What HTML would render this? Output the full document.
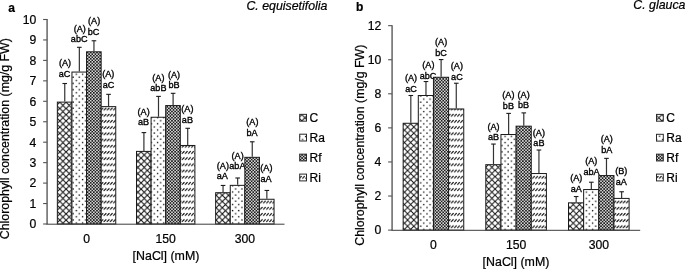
<!DOCTYPE html>
<html lang="en">
<head>
<meta charset="utf-8">
<title>Chlorophyll concentration</title>
<style>
html,body{margin:0;padding:0;background:#fff;}
body{width:685px;height:269px;overflow:hidden;}
svg{display:block;font-family:"Liberation Sans", sans-serif;fill:#000;}
text{stroke:#000;stroke-width:0.22px;}
.s{stroke-width:0.34px;}
</style>
</head>
<body>
<svg width="685" height="269" viewBox="0 0 685 269">
<defs>
<pattern id="pCL" patternUnits="userSpaceOnUse" width="6.25" height="6.2" x="3.550" y="3.100">
<rect width="6.25" height="6.2" fill="#fff"/>
<path d="M-1 -0.992L7.25 7.192M-1 7.192L7.25 -0.992" stroke="#111" stroke-width="1.1" fill="none"/>
</pattern>
<pattern id="pRaL" patternUnits="userSpaceOnUse" width="6.25" height="6.2" x="3.400" y="1.900">
<rect width="6.25" height="6.2" fill="#fff"/>
<rect x="0.35" y="0.35" width="1.3" height="1.3" fill="#000"/>
<rect x="3.475" y="3.45" width="1.3" height="1.3" fill="#000"/>
</pattern>
<pattern id="pRfL" patternUnits="userSpaceOnUse" width="3.125" height="3.1" x="-0.680" y="0.680">
<rect width="3.125" height="3.1" fill="#1c1c1c"/>
<rect x="0.03" y="0.1" width="1.5" height="1.35" fill="#fafafa"/>
<rect x="1.5925" y="1.65" width="1.5" height="1.35" fill="#fafafa"/>
</pattern>
<pattern id="pRiL" patternUnits="userSpaceOnUse" width="3.125" height="6.2" x="0.315" y="0.550">
<rect width="3.125" height="6.2" fill="#fff"/>
<path d="M0.62 4.05L2.5 2.2" stroke="#000" stroke-width="1.05" stroke-linecap="round" fill="none"/>
</pattern>
<pattern id="pCR" patternUnits="userSpaceOnUse" width="6.25" height="6.2" x="1.300" y="3.020">
<rect width="6.25" height="6.2" fill="#fff"/>
<path d="M-1 -0.992L7.25 7.192M-1 7.192L7.25 -0.992" stroke="#111" stroke-width="1.0" fill="none"/>
</pattern>
<pattern id="pRaR" patternUnits="userSpaceOnUse" width="6.25" height="6.2" x="0.940" y="2.020">
<rect width="6.25" height="6.2" fill="#fff"/>
<rect x="0.35" y="0.35" width="1.3" height="1.3" fill="#000"/>
<rect x="3.475" y="3.45" width="1.3" height="1.3" fill="#000"/>
</pattern>
<pattern id="pRfR" patternUnits="userSpaceOnUse" width="3.125" height="3.1" x="0.230" y="0.685">
<rect width="3.125" height="3.1" fill="#1c1c1c"/>
<rect x="0.03" y="0.1" width="1.5" height="1.35" fill="#fafafa"/>
<rect x="1.5925" y="1.65" width="1.5" height="1.35" fill="#fafafa"/>
</pattern>
<pattern id="pRiR" patternUnits="userSpaceOnUse" width="3.125" height="6.2" x="0.690" y="0.525">
<rect width="3.125" height="6.2" fill="#fff"/>
<path d="M0.62 4.05L2.5 2.2" stroke="#000" stroke-width="1.05" stroke-linecap="round" fill="none"/>
</pattern>
<pattern id="pCLL" patternUnits="userSpaceOnUse" width="6.25" height="6.2" x="1.800" y="3.100">
<rect width="6.25" height="6.2" fill="#fff"/>
<path d="M-1 -0.992L7.25 7.192M-1 7.192L7.25 -0.992" stroke="#111" stroke-width="1.1" fill="none"/>
</pattern>
<pattern id="pRaLL" patternUnits="userSpaceOnUse" width="6.25" height="6.2" x="1.600" y="2.200">
<rect width="6.25" height="6.2" fill="#fff"/>
<rect x="0.35" y="0.35" width="1.3" height="1.3" fill="#000"/>
<rect x="3.475" y="3.45" width="1.3" height="1.3" fill="#000"/>
</pattern>
<pattern id="pRfLL" patternUnits="userSpaceOnUse" width="3.125" height="3.1" x="1.290" y="0.725">
<rect width="3.125" height="3.1" fill="#1c1c1c"/>
<rect x="0.03" y="0.1" width="1.5" height="1.35" fill="#fafafa"/>
<rect x="1.5925" y="1.65" width="1.5" height="1.35" fill="#fafafa"/>
</pattern>
<pattern id="pRiLL" patternUnits="userSpaceOnUse" width="3.125" height="6.2" x="-1.185" y="0.575">
<rect width="3.125" height="6.2" fill="#fff"/>
<path d="M0.62 4.05L2.5 2.2" stroke="#000" stroke-width="1.05" stroke-linecap="round" fill="none"/>
</pattern>
<pattern id="pCRL" patternUnits="userSpaceOnUse" width="6.25" height="6.2" x="5.675" y="3.100">
<rect width="6.25" height="6.2" fill="#fff"/>
<path d="M-1 -0.992L7.25 7.192M-1 7.192L7.25 -0.992" stroke="#111" stroke-width="1.0" fill="none"/>
</pattern>
<pattern id="pRaRL" patternUnits="userSpaceOnUse" width="6.25" height="6.2" x="2.350" y="5.150">
<rect width="6.25" height="6.2" fill="#fff"/>
<rect x="0.35" y="0.35" width="1.3" height="1.3" fill="#000"/>
<rect x="3.475" y="3.45" width="1.3" height="1.3" fill="#000"/>
</pattern>
<pattern id="pRfRL" patternUnits="userSpaceOnUse" width="3.125" height="3.1" x="1.770" y="0.725">
<rect width="3.125" height="3.1" fill="#1c1c1c"/>
<rect x="0.03" y="0.1" width="1.5" height="1.35" fill="#fafafa"/>
<rect x="1.5925" y="1.65" width="1.5" height="1.35" fill="#fafafa"/>
</pattern>
<pattern id="pRiRL" patternUnits="userSpaceOnUse" width="3.125" height="6.2" x="-0.660" y="0.575">
<rect width="3.125" height="6.2" fill="#fff"/>
<path d="M0.62 4.05L2.5 2.2" stroke="#000" stroke-width="1.05" stroke-linecap="round" fill="none"/>
</pattern>
</defs>
<rect width="685" height="269" fill="#fff"/>
<text x="65.00" y="66.10" text-anchor="middle" font-size="9.1" class="s">(A)</text>
<text x="64.60" y="77.00" text-anchor="middle" font-size="9.1" class="s">aC</text>
<text x="79.70" y="31.50" text-anchor="middle" font-size="9.1" class="s">(A)</text>
<text x="79.20" y="41.70" text-anchor="middle" font-size="9.1" class="s">abC</text>
<text x="94.10" y="23.70" text-anchor="middle" font-size="9.1" class="s">(A)</text>
<text x="93.50" y="34.60" text-anchor="middle" font-size="9.1" class="s">bC</text>
<text x="108.20" y="77.30" text-anchor="middle" font-size="9.1" class="s">(A)</text>
<text x="108.50" y="88.20" text-anchor="middle" font-size="9.1" class="s">aC</text>
<text x="143.60" y="115.40" text-anchor="middle" font-size="9.1" class="s">(A)</text>
<text x="143.50" y="125.40" text-anchor="middle" font-size="9.1" class="s">aB</text>
<text x="158.40" y="80.90" text-anchor="middle" font-size="9.1" class="s">(A)</text>
<text x="158.40" y="91.40" text-anchor="middle" font-size="9.1" class="s">abB</text>
<text x="174.00" y="77.60" text-anchor="middle" font-size="9.1" class="s">(A)</text>
<text x="174.00" y="88.20" text-anchor="middle" font-size="9.1" class="s">bB</text>
<text x="187.40" y="112.10" text-anchor="middle" font-size="9.1" class="s">(A)</text>
<text x="187.40" y="122.80" text-anchor="middle" font-size="9.1" class="s">aB</text>
<text x="222.90" y="168.50" text-anchor="middle" font-size="9.1" class="s">(A)</text>
<text x="222.30" y="179.40" text-anchor="middle" font-size="9.1" class="s">aA</text>
<text x="237.60" y="158.80" text-anchor="middle" font-size="9.1" class="s">(A)</text>
<text x="237.40" y="169.20" text-anchor="middle" font-size="9.1" class="s">abA</text>
<text x="252.40" y="125.00" text-anchor="middle" font-size="9.1" class="s">(A)</text>
<text x="252.00" y="135.50" text-anchor="middle" font-size="9.1" class="s">bA</text>
<text x="266.40" y="170.80" text-anchor="middle" font-size="9.1" class="s">(A)</text>
<text x="266.00" y="181.60" text-anchor="middle" font-size="9.1" class="s">aA</text>
<rect x="57.35" y="102.12" width="14.60" height="121.88" fill="url(#pCL)" stroke="#1a1a1a" stroke-width="1"/>
<path d="M64.75 101.62V83.51" stroke="#333" stroke-width="1.2" fill="none"/><path d="M62.45 83.51H67.05" stroke="#1a1a1a" stroke-width="1.1" fill="none"/>
<rect x="71.95" y="72.06" width="14.60" height="151.94" fill="url(#pRaL)" stroke="#1a1a1a" stroke-width="1"/>
<path d="M79.35 71.56V47.31" stroke="#333" stroke-width="1.2" fill="none"/><path d="M77.05 47.31H81.65" stroke="#1a1a1a" stroke-width="1.1" fill="none"/>
<rect x="86.55" y="51.81" width="14.60" height="172.19" fill="url(#pRfL)" stroke="#1a1a1a" stroke-width="1"/>
<path d="M93.95 51.31V40.77" stroke="#333" stroke-width="1.2" fill="none"/><path d="M91.65 40.77H96.25" stroke="#1a1a1a" stroke-width="1.1" fill="none"/>
<rect x="101.15" y="106.62" width="14.60" height="117.38" fill="url(#pRiL)" stroke="#1a1a1a" stroke-width="1"/>
<path d="M108.55 106.12V94.35" stroke="#333" stroke-width="1.2" fill="none"/><path d="M106.25 94.35H110.85" stroke="#1a1a1a" stroke-width="1.1" fill="none"/>
<rect x="136.50" y="151.40" width="14.60" height="72.60" fill="url(#pCL)" stroke="#1a1a1a" stroke-width="1"/>
<path d="M143.90 150.90V132.59" stroke="#333" stroke-width="1.2" fill="none"/><path d="M141.60 132.59H146.20" stroke="#1a1a1a" stroke-width="1.1" fill="none"/>
<rect x="151.10" y="117.25" width="14.60" height="106.75" fill="url(#pRaL)" stroke="#1a1a1a" stroke-width="1"/>
<path d="M158.50 116.75V96.39" stroke="#333" stroke-width="1.2" fill="none"/><path d="M156.20 96.39H160.80" stroke="#1a1a1a" stroke-width="1.1" fill="none"/>
<rect x="165.70" y="105.59" width="14.60" height="118.41" fill="url(#pRfL)" stroke="#1a1a1a" stroke-width="1"/>
<path d="M173.10 105.09V93.32" stroke="#333" stroke-width="1.2" fill="none"/><path d="M170.80 93.32H175.40" stroke="#1a1a1a" stroke-width="1.1" fill="none"/>
<rect x="180.30" y="145.47" width="14.60" height="78.53" fill="url(#pRiL)" stroke="#1a1a1a" stroke-width="1"/>
<path d="M187.70 144.97V128.29" stroke="#333" stroke-width="1.2" fill="none"/><path d="M185.40 128.29H190.00" stroke="#1a1a1a" stroke-width="1.1" fill="none"/>
<rect x="215.65" y="192.71" width="14.60" height="31.29" fill="url(#pCL)" stroke="#1a1a1a" stroke-width="1"/>
<path d="M223.05 192.21V185.45" stroke="#333" stroke-width="1.2" fill="none"/><path d="M220.75 185.45H225.35" stroke="#1a1a1a" stroke-width="1.1" fill="none"/>
<rect x="230.25" y="185.35" width="14.60" height="38.65" fill="url(#pRaL)" stroke="#1a1a1a" stroke-width="1"/>
<path d="M237.65 184.85V177.99" stroke="#333" stroke-width="1.2" fill="none"/><path d="M235.35 177.99H239.95" stroke="#1a1a1a" stroke-width="1.1" fill="none"/>
<rect x="244.85" y="157.33" width="14.60" height="66.67" fill="url(#pRfL)" stroke="#1a1a1a" stroke-width="1"/>
<path d="M252.25 156.83V141.79" stroke="#333" stroke-width="1.2" fill="none"/><path d="M249.95 141.79H254.55" stroke="#1a1a1a" stroke-width="1.1" fill="none"/>
<rect x="259.45" y="199.26" width="14.60" height="24.74" fill="url(#pRiL)" stroke="#1a1a1a" stroke-width="1"/>
<path d="M266.85 198.76V190.46" stroke="#333" stroke-width="1.2" fill="none"/><path d="M264.55 190.46H269.15" stroke="#1a1a1a" stroke-width="1.1" fill="none"/>
<path d="M47.10 19.00V224.00" stroke="#777" stroke-width="1.7" fill="none"/>
<path d="M46.30 224.20H284.50" stroke="#3c3c3c" stroke-width="1" fill="none"/>
<path d="M43.10 224.00H47.10" stroke="#555" stroke-width="1.1" fill="none"/>
<text x="36.30" y="228.35" text-anchor="end" font-size="12.2">0</text>
<path d="M43.10 203.55H47.10" stroke="#555" stroke-width="1.1" fill="none"/>
<text x="36.30" y="207.90" text-anchor="end" font-size="12.2">1</text>
<path d="M43.10 183.10H47.10" stroke="#555" stroke-width="1.1" fill="none"/>
<text x="36.30" y="187.45" text-anchor="end" font-size="12.2">2</text>
<path d="M43.10 162.65H47.10" stroke="#555" stroke-width="1.1" fill="none"/>
<text x="36.30" y="167.00" text-anchor="end" font-size="12.2">3</text>
<path d="M43.10 142.20H47.10" stroke="#555" stroke-width="1.1" fill="none"/>
<text x="36.30" y="146.55" text-anchor="end" font-size="12.2">4</text>
<path d="M43.10 121.75H47.10" stroke="#555" stroke-width="1.1" fill="none"/>
<text x="36.30" y="126.10" text-anchor="end" font-size="12.2">5</text>
<path d="M43.10 101.30H47.10" stroke="#555" stroke-width="1.1" fill="none"/>
<text x="36.30" y="105.65" text-anchor="end" font-size="12.2">6</text>
<path d="M43.10 80.85H47.10" stroke="#555" stroke-width="1.1" fill="none"/>
<text x="36.30" y="85.20" text-anchor="end" font-size="12.2">7</text>
<path d="M43.10 60.40H47.10" stroke="#555" stroke-width="1.1" fill="none"/>
<text x="36.30" y="64.75" text-anchor="end" font-size="12.2">8</text>
<path d="M43.10 39.95H47.10" stroke="#555" stroke-width="1.1" fill="none"/>
<text x="36.30" y="44.30" text-anchor="end" font-size="12.2">9</text>
<path d="M43.10 19.50H47.10" stroke="#555" stroke-width="1.1" fill="none"/>
<text x="36.30" y="23.85" text-anchor="end" font-size="12.2">10</text>
<text x="86.55" y="242.70" text-anchor="middle" font-size="12.2">0</text>
<text x="165.70" y="242.70" text-anchor="middle" font-size="12.2">150</text>
<text x="244.85" y="242.70" text-anchor="middle" font-size="12.2">300</text>
<text x="166.00" y="259.60" text-anchor="middle" font-size="12.4">[NaCl] (mM)</text>
<text transform="translate(9.20 138.70) rotate(-90)" text-anchor="middle" font-size="12.35">Chlorophyll concentration (mg/g FW)</text>
<text x="411.00" y="80.50" text-anchor="middle" font-size="9.1" class="s">(A)</text>
<text x="411.00" y="91.70" text-anchor="middle" font-size="9.1" class="s">aC</text>
<text x="428.40" y="67.60" text-anchor="middle" font-size="9.1" class="s">(A)</text>
<text x="428.10" y="79.00" text-anchor="middle" font-size="9.1" class="s">abC</text>
<text x="441.10" y="45.30" text-anchor="middle" font-size="9.1" class="s">(A)</text>
<text x="441.00" y="55.60" text-anchor="middle" font-size="9.1" class="s">bC</text>
<text x="456.90" y="69.40" text-anchor="middle" font-size="9.1" class="s">(A)</text>
<text x="456.90" y="79.90" text-anchor="middle" font-size="9.1" class="s">aC</text>
<text x="493.50" y="129.60" text-anchor="middle" font-size="9.1" class="s">(A)</text>
<text x="493.50" y="140.20" text-anchor="middle" font-size="9.1" class="s">aB</text>
<text x="508.40" y="98.20" text-anchor="middle" font-size="9.1" class="s">(A)</text>
<text x="508.40" y="108.70" text-anchor="middle" font-size="9.1" class="s">bB</text>
<text x="523.60" y="97.60" text-anchor="middle" font-size="9.1" class="s">(A)</text>
<text x="523.60" y="108.20" text-anchor="middle" font-size="9.1" class="s">bB</text>
<text x="538.90" y="136.00" text-anchor="middle" font-size="9.1" class="s">(A)</text>
<text x="538.90" y="146.10" text-anchor="middle" font-size="9.1" class="s">aB</text>
<text x="576.20" y="180.90" text-anchor="middle" font-size="9.1" class="s">(A)</text>
<text x="576.20" y="191.60" text-anchor="middle" font-size="9.1" class="s">aA</text>
<text x="591.30" y="163.80" text-anchor="middle" font-size="9.1" class="s">(A)</text>
<text x="591.50" y="175.00" text-anchor="middle" font-size="9.1" class="s">abA</text>
<text x="606.70" y="142.00" text-anchor="middle" font-size="9.1" class="s">(A)</text>
<text x="606.70" y="152.70" text-anchor="middle" font-size="9.1" class="s">bA</text>
<text x="621.20" y="174.00" text-anchor="middle" font-size="9.1" class="s">(B)</text>
<text x="621.20" y="184.80" text-anchor="middle" font-size="9.1" class="s">aA</text>
<rect x="403.15" y="123.27" width="15.15" height="106.83" fill="url(#pCR)" stroke="#1a1a1a" stroke-width="1"/>
<path d="M410.82 122.77V95.50" stroke="#333" stroke-width="1.2" fill="none"/><path d="M408.52 95.50H413.12" stroke="#1a1a1a" stroke-width="1.1" fill="none"/>
<rect x="418.30" y="95.50" width="15.15" height="134.60" fill="url(#pRaR)" stroke="#1a1a1a" stroke-width="1"/>
<path d="M425.97 95.00V81.53" stroke="#333" stroke-width="1.2" fill="none"/><path d="M423.67 81.53H428.27" stroke="#1a1a1a" stroke-width="1.1" fill="none"/>
<rect x="433.45" y="77.27" width="15.15" height="152.83" fill="url(#pRfR)" stroke="#1a1a1a" stroke-width="1"/>
<path d="M441.12 76.77V59.55" stroke="#333" stroke-width="1.2" fill="none"/><path d="M438.82 59.55H443.42" stroke="#1a1a1a" stroke-width="1.1" fill="none"/>
<rect x="448.60" y="108.96" width="15.15" height="121.14" fill="url(#pRiR)" stroke="#1a1a1a" stroke-width="1"/>
<path d="M456.27 108.46V83.24" stroke="#333" stroke-width="1.2" fill="none"/><path d="M453.97 83.24H458.57" stroke="#1a1a1a" stroke-width="1.1" fill="none"/>
<rect x="485.80" y="164.68" width="15.15" height="65.42" fill="url(#pCR)" stroke="#1a1a1a" stroke-width="1"/>
<path d="M493.48 164.18V144.06" stroke="#333" stroke-width="1.2" fill="none"/><path d="M491.18 144.06H495.77" stroke="#1a1a1a" stroke-width="1.1" fill="none"/>
<rect x="500.95" y="134.52" width="15.15" height="95.58" fill="url(#pRaR)" stroke="#1a1a1a" stroke-width="1"/>
<path d="M508.62 134.02V113.39" stroke="#333" stroke-width="1.2" fill="none"/><path d="M506.32 113.39H510.92" stroke="#1a1a1a" stroke-width="1.1" fill="none"/>
<rect x="516.10" y="126.17" width="15.15" height="103.93" fill="url(#pRfR)" stroke="#1a1a1a" stroke-width="1"/>
<path d="M523.78 125.67V112.88" stroke="#333" stroke-width="1.2" fill="none"/><path d="M521.48 112.88H526.08" stroke="#1a1a1a" stroke-width="1.1" fill="none"/>
<rect x="531.25" y="173.54" width="15.15" height="56.56" fill="url(#pRiR)" stroke="#1a1a1a" stroke-width="1"/>
<path d="M538.93 173.04V150.02" stroke="#333" stroke-width="1.2" fill="none"/><path d="M536.62 150.02H541.23" stroke="#1a1a1a" stroke-width="1.1" fill="none"/>
<rect x="568.50" y="202.84" width="15.15" height="27.26" fill="url(#pCR)" stroke="#1a1a1a" stroke-width="1"/>
<path d="M576.18 202.34V196.54" stroke="#333" stroke-width="1.2" fill="none"/><path d="M573.88 196.54H578.48" stroke="#1a1a1a" stroke-width="1.1" fill="none"/>
<rect x="583.65" y="189.55" width="15.15" height="40.55" fill="url(#pRaR)" stroke="#1a1a1a" stroke-width="1"/>
<path d="M591.33 189.05V182.22" stroke="#333" stroke-width="1.2" fill="none"/><path d="M589.02 182.22H593.62" stroke="#1a1a1a" stroke-width="1.1" fill="none"/>
<rect x="598.80" y="175.58" width="15.15" height="54.52" fill="url(#pRfR)" stroke="#1a1a1a" stroke-width="1"/>
<path d="M606.48 175.08V158.37" stroke="#333" stroke-width="1.2" fill="none"/><path d="M604.17 158.37H608.77" stroke="#1a1a1a" stroke-width="1.1" fill="none"/>
<rect x="613.95" y="198.41" width="15.15" height="31.69" fill="url(#pRiR)" stroke="#1a1a1a" stroke-width="1"/>
<path d="M621.63 197.91V191.77" stroke="#333" stroke-width="1.2" fill="none"/><path d="M619.33 191.77H623.93" stroke="#1a1a1a" stroke-width="1.1" fill="none"/>
<path d="M392.10 25.15V230.10" stroke="#777" stroke-width="1.7" fill="none"/>
<path d="M391.30 230.30H640.20" stroke="#3c3c3c" stroke-width="1" fill="none"/>
<path d="M388.10 230.10H392.10" stroke="#555" stroke-width="1.1" fill="none"/>
<text x="381.20" y="234.45" text-anchor="end" font-size="12.2">0</text>
<path d="M388.10 196.03H392.10" stroke="#555" stroke-width="1.1" fill="none"/>
<text x="381.20" y="200.38" text-anchor="end" font-size="12.2">2</text>
<path d="M388.10 161.95H392.10" stroke="#555" stroke-width="1.1" fill="none"/>
<text x="381.20" y="166.30" text-anchor="end" font-size="12.2">4</text>
<path d="M388.10 127.88H392.10" stroke="#555" stroke-width="1.1" fill="none"/>
<text x="381.20" y="132.22" text-anchor="end" font-size="12.2">6</text>
<path d="M388.10 93.80H392.10" stroke="#555" stroke-width="1.1" fill="none"/>
<text x="381.20" y="98.15" text-anchor="end" font-size="12.2">8</text>
<path d="M388.10 59.73H392.10" stroke="#555" stroke-width="1.1" fill="none"/>
<text x="381.20" y="64.08" text-anchor="end" font-size="12.2">10</text>
<path d="M388.10 25.65H392.10" stroke="#555" stroke-width="1.1" fill="none"/>
<text x="381.20" y="30.00" text-anchor="end" font-size="12.2">12</text>
<text x="433.45" y="248.50" text-anchor="middle" font-size="12.2">0</text>
<text x="516.10" y="248.50" text-anchor="middle" font-size="12.2">150</text>
<text x="598.80" y="248.50" text-anchor="middle" font-size="12.2">300</text>
<text x="516.00" y="266.00" text-anchor="middle" font-size="12.4">[NaCl] (mM)</text>
<text transform="translate(363.70 145.20) rotate(-90)" text-anchor="middle" font-size="12.35">Chlorophyll concentration (mg/g FW)</text>
<rect x="299.70" y="114.35" width="6.8" height="6.8" fill="url(#pCLL)" stroke="#2a2a2a" stroke-width="1"/>
<text x="309.60" y="122.05" font-size="12">C</text>
<rect x="299.70" y="134.20" width="6.8" height="6.8" fill="url(#pRaLL)" stroke="#2a2a2a" stroke-width="1"/>
<text x="309.60" y="141.90" font-size="12">Ra</text>
<rect x="299.70" y="154.15" width="6.8" height="6.8" fill="url(#pRfLL)" stroke="#2a2a2a" stroke-width="1"/>
<text x="309.60" y="161.85" font-size="12">Rf</text>
<rect x="299.70" y="174.10" width="6.8" height="6.8" fill="url(#pRiLL)" stroke="#2a2a2a" stroke-width="1"/>
<text x="309.60" y="181.80" font-size="12">Ri</text>
<rect x="656.50" y="114.40" width="6.8" height="6.8" fill="url(#pCRL)" stroke="#2a2a2a" stroke-width="1"/>
<text x="666.30" y="122.10" font-size="12">C</text>
<rect x="656.50" y="134.30" width="6.8" height="6.8" fill="url(#pRaRL)" stroke="#2a2a2a" stroke-width="1"/>
<text x="666.30" y="142.00" font-size="12">Ra</text>
<rect x="656.50" y="154.15" width="6.8" height="6.8" fill="url(#pRfRL)" stroke="#2a2a2a" stroke-width="1"/>
<text x="666.30" y="161.85" font-size="12">Rf</text>
<rect x="656.50" y="174.10" width="6.8" height="6.8" fill="url(#pRiRL)" stroke="#2a2a2a" stroke-width="1"/>
<text x="666.30" y="181.80" font-size="12">Ri</text>
<text x="8.2" y="12.0" font-size="12" font-weight="bold">a</text>
<text x="356.0" y="10.8" font-size="12" font-weight="bold">b</text>
<text x="246.4" y="10" font-size="12.35" font-style="italic">C. equisetifolia</text>
<text x="633.3" y="9.2" font-size="12.35" font-style="italic">C. glauca</text>
</svg>
</body>
</html>
